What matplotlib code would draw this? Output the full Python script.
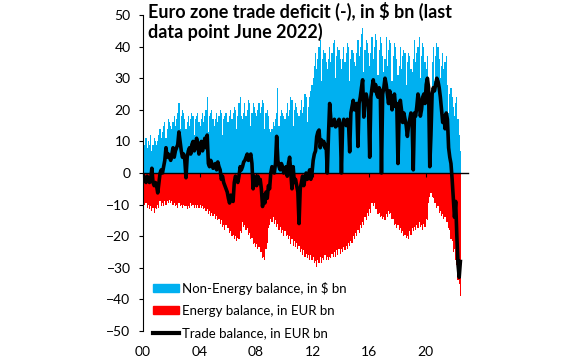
import numpy as np
import matplotlib
matplotlib.use("Agg")
import matplotlib.pyplot as plt
from matplotlib.patches import Patch
from matplotlib.lines import Line2D

plt.rcParams['font.family'] = ['Lato', 'DejaVu Sans']

# --- data: monthly, Jan 2000 - Jun 2022 (one row per year) ---
non_energy = [
    7, 9, 11, 8, 10, 9, 12, 7, 9, 11, 10, 9,             # 2000
    10, 12, 14, 11, 13, 15, 16, 11, 14, 17, 16, 15,      # 2001
    14, 16, 18, 15, 17, 19, 22, 14, 18, 20, 19, 17,      # 2002
    14, 16, 18, 15, 17, 19, 18, 12, 17, 18, 19, 16,      # 2003
    15, 17, 19, 16, 18, 20, 24, 13, 18, 19, 20, 17,      # 2004
    15, 17, 19, 16, 18, 20, 19, 12, 17, 18, 19, 16,      # 2005
    16, 18, 20, 17, 19, 21, 20, 14, 18, 22, 24, 18,      # 2006
    17, 19, 22, 18, 20, 23, 22, 15, 19, 22, 21, 19,      # 2007
    18, 20, 22, 19, 21, 23, 22, 14, 19, 20, 18, 14,      # 2008
    13, 14, 16, 15, 17, 19, 27, 15, 18, 20, 19, 18,      # 2009
    17, 19, 22, 18, 20, 24, 23, 15, 20, 22, 21, 19,      # 2010
    18, 20, 23, 19, 21, 25, 24, 16, 21, 24, 26, 28,      # 2011
    30, 34, 38, 33, 36, 40, 42, 29, 36, 39, 38, 35,      # 2012
    33, 36, 40, 35, 38, 41, 42, 30, 37, 40, 39, 36,      # 2013
    33, 36, 40, 35, 38, 41, 40, 29, 36, 39, 38, 35,      # 2014
    34, 38, 42, 37, 40, 44, 46, 32, 39, 42, 41, 38,      # 2015
    34, 38, 43, 36, 40, 44, 42, 31, 39, 43, 41, 37,      # 2016
    32, 36, 43, 34, 39, 42, 41, 29, 37, 41, 40, 36,      # 2017
    31, 34, 40, 33, 37, 39, 38, 28, 35, 38, 37, 33,      # 2018
    32, 36, 42, 35, 38, 40, 43, 30, 37, 41, 40, 35,      # 2019
    33, 37, 30, 18, 24, 35, 40, 29, 37, 41, 40, 36,      # 2020
    30, 34, 38, 33, 35, 37, 28, 19, 25, 27, 24, 21,      # 2021
    18, 22, 24, 17, 12, 7,                               # 2022
]

energy = [
    -8.5, -10, -9.5, -11, -10, -11.5, -10.5, -12, -11, -12.5, -11, -11.5,
    -10, -11, -9, -10.5, -9.5, -10.5, -9, -10, -9, -9.5, -8.5, -9.5,
    -9, -10, -9.5, -10.5, -10, -11, -9.5, -10.5, -10, -11, -10, -10.5,
    -10.5, -11.5, -10.5, -11, -9.5, -10.5, -10, -11, -10, -11, -10, -11,
    -10, -11, -10.5, -11.5, -11, -12, -11.5, -13, -12, -13.5, -12.5, -13.5,
    -13, -14.5, -13.5, -15, -14.5, -16, -15, -17, -16.5, -18, -16.5, -17.5,
    -17.5, -19, -18.5, -20, -19.5, -21, -20, -21.5, -20.5, -21, -18.5, -19,
    -15.5, -17, -16.5, -18, -17.5, -19.5, -19, -21, -20.5, -22.5, -22, -23.5,
    -22.5, -24, -23.5, -25, -25, -27, -26.5, -27.5, -24, -22, -17.5, -16.5,
    -14.5, -15.5, -14, -16, -15, -17, -16, -18, -17, -19, -18, -20,
    -18.5, -20, -19.5, -21, -20, -22.5, -21, -23, -21.5, -23.5, -22, -24,
    -23, -25, -24, -26, -24.5, -26.5, -25.5, -27, -26, -27.5, -26, -27.5,
    -26.5, -28.5, -28, -29.7, -27.5, -28.5, -26.5, -28.5, -27, -27.5, -26, -27.5,
    -26.5, -27.5, -26.5, -27, -25.5, -26.5, -25, -26.5, -24.5, -26, -24, -25.5,
    -24, -25, -23.5, -24.5, -23, -24, -22, -23, -21.5, -22, -20, -21,
    -19, -20, -18, -19, -16.5, -17.5, -15.5, -16.5, -14, -15, -12.5, -13.5,
    -11.5, -12.5, -9.5, -10.5, -9.5, -11.5, -11.5, -13, -12.5, -14, -13.5, -14.5,
    -14, -15, -13, -14, -12, -13, -12.5, -14.5, -14.5, -16.5, -16, -17.5,
    -16.5, -18, -17.5, -19, -18.5, -20, -19.5, -20.5, -20, -21, -18.5, -19.5,
    -17.5, -18.5, -17, -18, -16.5, -17.5, -15.5, -17, -16.5, -18, -16, -17,
    -14.5, -15, -9.5, -7.5, -6.4, -7.5, -8, -9.5, -9.5, -11, -10.5, -12.5,
    -12, -13.5, -13, -14.5, -14, -15.5, -15.5, -17.5, -18, -21, -21.5, -25,
    -24, -27.5, -29, -34, -35, -39,
]

trade = [
    -1, -2, -3, -1, -2, -3, -2, 1.5, -3, -4, -3, -4,
    -6.3, -3, 0, 1, 0, 2, 4, 8, 5, 6, 5, 4,
    6, 8, 5, 7, 8, 9, 13, 10, 7, 5, 6, 4,
    -1.5, 5, 7, 8, 6, 9, 10, 7, 8, 11, 9, 6,
    8, 10, 7, 9, 11, 8, 12, 3, 2, 4, 3, 1.5,
    2, 3, 1, 3.5, 2, 1, -2, -1, -3, -4, -5, -6,
    -8, -9.5, -7, -8, -9, -3, -1, -2, -3, -1, 2, 1,
    2, 3.5, 4, 5, 6, 4, 5, 6, 3, -5, -1, -2,
    -4, -1, -3, -2, -5, -10.6, -7, -9.5, -6, -8, -4, -5,
    0, 2, 1, 0, 3, 11.6, 4, 2, 1, 3, 2, 0,
    1, 2, -1, 3, 5, 0, -5, 2, -3, -2, -4, -6,
    -16, -5, -3, -1, -4, -2, 0, -2, -1, 1, -2, 0,
    4, 6, 7, 11.5, 13, 13.6, 8, 10.5, 9, 10, 8, 9,
    0, 12, 22, 17, 15, 16, 17, 14.6, 15, 16, 17, 14,
    0, 15, 17, 16, 15, 17, 16, 6.7, 19, 21, 23, 20,
    20, 22, 8.4, 22, 24, 27, 29.5, 17.7, 22, 25, 23, 21,
    5, 24, 27, 29.5, 26, 28, 25, 24, 27, 26, 0, 25,
    27, 30, 28, 25, 22, 26, 24, 20, 23, 25, 21, 22,
    3, 18, 23, 20, 16, 19, 17, 15, 11.6, 15, 17, 19,
    16, 1, 19, 18, 21, 25, 23, 18, 20, 24, 25, 22,
    28, 30, 27, 2, 12, 25, 27, 26, 28, 30, 29, 27,
    24, 20, 16, 18, 14, 19, 17, 8, 5, 3, -2, -8,
    -14, -9, -20, -29, -33, -28,
]

year_ticks = [2000, 2004, 2008, 2012, 2016, 2020]
year_labels = ['00', '04', '08', '12', '16', '20']

months = np.arange(len(non_energy))
x = 2000 + months / 12

fig = plt.figure(figsize=(5.83, 3.61), dpi=100)
ax = fig.add_axes([0.2453, 0.0831, 0.5575, 0.8753])

ax.bar(x, non_energy, width=1/12, align='edge', color='#00B0F0', linewidth=0)
ax.bar(x, energy, width=1/12, align='edge', color='#FF0000', linewidth=0)
ax.plot(x + 1/24, trade, color='black', lw=2.6, solid_joinstyle='round', zorder=3)

ax.set_xlim(2000, 2023)
ax.set_ylim(-50, 50)
ax.set_yticks(range(-50, 51, 10))
ax.tick_params(axis='y', direction='out', length=3, pad=6, labelsize=10)

# x axis line sits on zero, labels at the bottom
for s in ['top', 'right']:
    ax.spines[s].set_visible(False)
ax.spines['bottom'].set_position(('data', 0))
ax.spines['bottom'].set_linewidth(1)
ax.set_xticks(year_ticks)
ax.tick_params(axis='x', direction='out', length=3, labelbottom=False)

sec = ax.secondary_xaxis(0)
sec.set_xticks(year_ticks, labels=year_labels)
sec.tick_params(length=0, pad=11, labelsize=10)
sec.spines['bottom'].set_visible(False)

ax.text(0.015, 1.04, "Euro zone trade deficit (-), in \\$ bn (last\ndata point June 2022)",
        transform=ax.transAxes, ha='left', va='top', fontsize=13, fontweight='bold',
        linespacing=1.1)

handles = [Patch(color='#00B0F0'), Patch(color='#FF0000'), Line2D([], [], color='black', lw=3)]
labels = ["Non-Energy balance, in \\$ bn", "Energy balance, in EUR bn", "Trade balance, in EUR bn"]
ax.legend(handles, labels, loc='lower left', bbox_to_anchor=(0.03, -0.026), frameon=False,
          fontsize=9.5, handlelength=2.0, handleheight=0.6, handletextpad=0.25,
          labelspacing=0.78, borderpad=0, borderaxespad=0)

fig.savefig('out.png', dpi=100)
